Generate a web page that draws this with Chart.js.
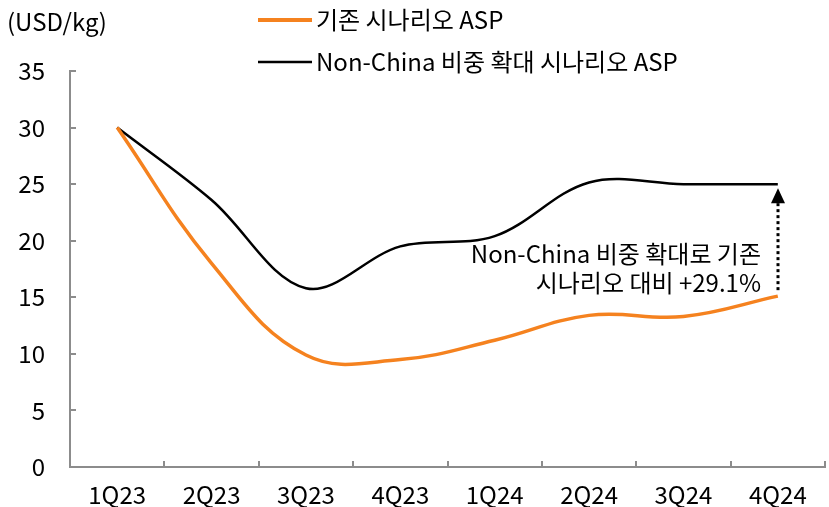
<!DOCTYPE html>
<html>
<head>
<meta charset="utf-8">
<script src="https://cdn.jsdelivr.net/npm/chart.js@4"></script>
<style>
  html, body { margin: 0; padding: 0; background: #fff; }
  #wrap { position: relative; width: 829px; height: 507px; }
</style>
</head>
<body>
<div id="wrap"><canvas id="asp-chart" width="829" height="507"></canvas></div>
<script>
// 분기 라벨
const quarters = ['1Q23', '2Q23', '3Q23', '4Q23', '1Q24', '2Q24', '3Q24', '4Q24'];
// 기존 시나리오 ASP (USD/kg)
const baseAsp = [30, 18.0, 9.9, 9.5, 11.2, 13.4, 13.3, 15.1];
// Non-China 비중 확대 시나리오 ASP (USD/kg)
const nonChinaAsp = [30, 23.6, 15.8, 19.5, 20.4, 25.15, 25.0, 25.0];
// y축 눈금
const yTicks = [0, 5, 10, 15, 20, 25, 30, 35];

const legendItems = ['기존 시나리오 ASP', 'Non-China 비중 확대 시나리오 ASP'];
const noteLines = ['Non-China 비중 확대로 기존', '시나리오 대비 +29.1%'];

const FONT = '"Noto Sans CJK KR", "Noto Sans", sans-serif';
const FSIZE = 24;
const ORANGE = '#F5821F';
const AXIS = '#8c8c8c';

// 축 눈금 표시(안쪽), 범례, 단위, 화살표 주석
const decorPlugin = {
  id: 'decor',
  afterDraw(chart) {
    const ctx = chart.ctx;
    const x = chart.scales.x;
    const y = chart.scales.y;
    const area = chart.chartArea;
    ctx.save();

    // 눈금선
    ctx.strokeStyle = AXIS;
    ctx.lineWidth = 2;
    ctx.beginPath();
    yTicks.forEach(v => {
      const py = Math.round(y.getPixelForValue(v));
      ctx.moveTo(area.left, py);
      ctx.lineTo(area.left + 6, py);
    });
    const step = x.getPixelForValue(1) - x.getPixelForValue(0);
    for (let i = 0; i <= quarters.length; i++) {
      const px = Math.round(x.getPixelForValue(i) - step / 2);
      ctx.moveTo(px, area.bottom);
      ctx.lineTo(px, area.bottom - 6);
    }
    ctx.stroke();

    // 단위
    ctx.fillStyle = '#000';
    ctx.font = FSIZE + 'px ' + FONT;
    ctx.textAlign = 'left';
    ctx.textBaseline = 'middle';
    ctx.fillText('(USD/kg)', 7, 22);

    // 범례
    const legendColors = [ORANGE, '#000'];
    const legendWidths = [4, 2.5];
    legendItems.forEach((t, i) => {
      const ly = 20 + i * 42;
      ctx.strokeStyle = legendColors[i];
      ctx.lineWidth = legendWidths[i];
      ctx.beginPath();
      ctx.moveTo(258, ly);
      ctx.lineTo(312, ly);
      ctx.stroke();
      ctx.fillStyle = '#000';
      ctx.fillText(t, 316, ly);
    });

    // 점선 화살표
    const last = quarters.length - 1;
    const ax = Math.round(x.getPixelForValue(last));
    const yLow = y.getPixelForValue(baseAsp[last]);
    const yHigh = y.getPixelForValue(nonChinaAsp[last]);
    ctx.strokeStyle = '#000';
    ctx.lineWidth = 3;
    ctx.setLineDash([3, 3]);
    ctx.beginPath();
    ctx.moveTo(ax, yLow - 6);
    ctx.lineTo(ax, yHigh + 18);
    ctx.stroke();
    ctx.setLineDash([]);
    ctx.fillStyle = '#000';
    ctx.beginPath();
    ctx.moveTo(ax, yHigh + 4);
    ctx.lineTo(ax - 7, yHigh + 19);
    ctx.lineTo(ax + 7, yHigh + 19);
    ctx.closePath();
    ctx.fill();

    // 주석 텍스트
    ctx.textAlign = 'right';
    ctx.fillText(noteLines[0], 761, 254);
    ctx.fillText(noteLines[1], 761, 283);

    ctx.restore();
  }
};

const aspChart = new Chart(document.getElementById('asp-chart'), {
  type: 'line',
  data: {
    labels: quarters,
    datasets: [
      {
        label: legendItems[0],
        data: baseAsp,
        borderColor: ORANGE,
        borderWidth: 3.5,
        pointRadius: 0,
        tension: 0.4,
        fill: false
      },
      {
        label: legendItems[1],
        data: nonChinaAsp,
        borderColor: '#000',
        borderWidth: 2.5,
        pointRadius: 0,
        tension: 0.35,
        fill: false
      }
    ]
  },
  options: {
    responsive: false,
    animation: false,
    maintainAspectRatio: false,
    layout: { padding: { top: 71, right: 4, left: 0, bottom: 0 } },
    plugins: {
      legend: { display: false },
      tooltip: { enabled: false }
    },
    scales: {
      x: {
        offset: true,
        grid: { display: false },
        border: { display: true, color: AXIS, width: 2 },
        ticks: {
          color: '#000',
          font: { family: FONT, size: FSIZE },
          padding: 5,
          maxRotation: 0
        },
        afterFit(scale) { scale.height = 40; }
      },
      y: {
        min: 0,
        max: 35,
        grid: { display: false },
        border: { display: true, color: AXIS, width: 2 },
        ticks: {
          stepSize: 5,
          color: '#000',
          font: { family: FONT, size: FSIZE },
          padding: 17
        },
        afterFit(scale) { scale.width = 70; }
      }
    }
  },
  plugins: [decorPlugin]
});
</script>
</body>
</html>
